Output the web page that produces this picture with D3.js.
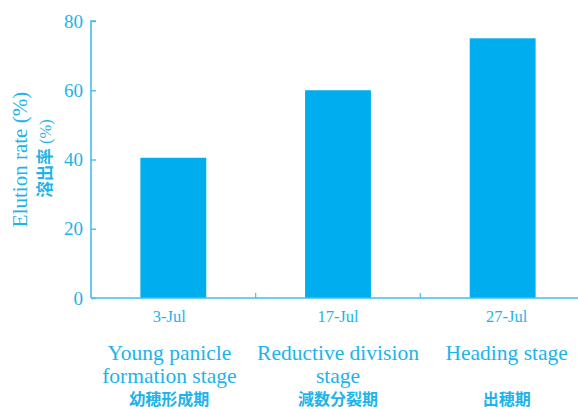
<!DOCTYPE html>
<html>
<head>
<meta charset="utf-8">
<script src="https://cdn.jsdelivr.net/npm/d3@7"></script>
<style>
  html, body { margin: 0; padding: 0; background: #fff; }
  svg { display: block; }
</style>
</head>
<body>
<svg id="chart" width="578" height="409"></svg>
<script>
// Elution rate by sampling date / growth stage
const dates = ["3-Jul", "17-Jul", "27-Jul"];
const stagesEn = [["Young panicle", "formation stage"], ["Reductive division", "stage"], ["Heading stage"]];
const stagesJa = ["幼穂形成期", "減数分裂期", "出穂期"];
const elutionRate = [40.5, 60, 75];
const yTicks = [0, 20, 40, 60, 80];

const barColor = "#00aeef";
const textColor = "#1eb3ea";
const axisColor = "#45bdec";
const serif = "'Liberation Serif', 'Times New Roman', serif";
const cjk = "'Noto Sans CJK JP', sans-serif";

const svg = d3.select("#chart");
const W = 578, H = 409;
const margin = { left: 91, right: -7, top: 21, bottom: 111 };

const x = d3.scaleBand()
  .domain(dates)
  .range([margin.left, W - margin.right])
  .paddingInner(0.6)
  .paddingOuter(0.3);
// slightly wider band used for placing the category text
const xLabel = d3.scaleBand()
  .domain(dates)
  .range([85, 591]);
const labelX = d => xLabel(d) + xLabel.bandwidth() / 2;

const y = d3.scaleLinear()
  .domain([0, 80])
  .range([H - margin.bottom, margin.top]);

// bars
svg.append("g")
  .selectAll("rect")
  .data(elutionRate)
  .join("rect")
  .attr("x", (d, i) => x(dates[i]))
  .attr("width", x.bandwidth())
  .attr("y", d => y(d))
  .attr("height", d => y(0) - y(d))
  .attr("fill", barColor);

// y axis (ticks point inward)
const yAxis = svg.append("g")
  .attr("transform", `translate(${margin.left},0)`)
  .call(d3.axisRight(y).tickValues(yTicks).tickSize(5).tickFormat(""));
yAxis.select(".domain").attr("stroke", axisColor).attr("stroke-width", 1.6)
  .attr("d", `M5,${y(80)}H0V${y(0)}`);
yAxis.selectAll(".tick line").attr("stroke", axisColor).attr("stroke-width", 1.4);

svg.append("g")
  .selectAll("text")
  .data(yTicks)
  .join("text")
  .attr("x", 83)
  .attr("y", d => y(d))
  .attr("dy", "0.35em")
  .attr("text-anchor", "end")
  .attr("font-family", serif)
  .attr("font-size", 19)
  .attr("fill", textColor)
  .text(d => d);

// x axis with separators between categories
const sep = d3.range(1, dates.length).map(i => (x(dates[i - 1]) + x.bandwidth() + x(dates[i])) / 2);
const xAxis = svg.append("g");
xAxis.append("line")
  .attr("x1", margin.left).attr("x2", W)
  .attr("y1", y(0)).attr("y2", y(0))
  .attr("stroke", axisColor).attr("stroke-width", 1.6);
xAxis.selectAll("line.sep")
  .data(sep)
  .join("line")
  .attr("class", "sep")
  .attr("x1", d => d).attr("x2", d => d)
  .attr("y1", y(0) - 5).attr("y2", y(0))
  .attr("stroke", axisColor).attr("stroke-width", 1.2);

// date labels
svg.append("g")
  .selectAll("text")
  .data(dates)
  .join("text")
  .attr("x", labelX)
  .attr("y", 322)
  .attr("text-anchor", "middle")
  .attr("font-family", serif)
  .attr("font-size", 16.5)
  .attr("fill", textColor)
  .text(d => d);

// stage labels (English, up to two lines)
const stageG = svg.append("g")
  .selectAll("text")
  .data(stagesEn)
  .join("text")
  .attr("text-anchor", "middle")
  .attr("font-family", serif)
  .attr("font-size", 21.5)
  .attr("fill", textColor);
stageG.each(function (lines, i) {
  const cx = labelX(dates[i]);
  d3.select(this).selectAll("tspan")
    .data(lines)
    .join("tspan")
    .attr("x", cx)
    .attr("y", (l, j) => 360 + j * 22.5)
    .text(l => l);
});

// stage labels (Japanese)
svg.append("g")
  .selectAll("text")
  .data(stagesJa)
  .join("text")
  .attr("x", (d, i) => labelX(dates[i]))
  .attr("y", 404.5)
  .attr("text-anchor", "middle")
  .attr("font-family", cjk)
  .attr("font-weight", "bold")
  .attr("font-size", 16)
  .attr("fill", textColor)
  .text(d => d);

// y axis titles
const midY = (y(0) + y(80)) / 2;
svg.append("text")
  .attr("transform", `translate(27,${midY}) rotate(-90)`)
  .attr("text-anchor", "middle")
  .attr("font-family", serif)
  .attr("font-size", 21)
  .attr("fill", textColor)
  .text("Elution rate (%)");

const ja = svg.append("text")
  .attr("transform", `translate(51,${midY - 1}) rotate(-90)`)
  .attr("text-anchor", "middle")
  .attr("font-size", 16.5)
  .attr("fill", textColor);
ja.append("tspan").attr("font-family", cjk).attr("font-weight", "bold").text("溶出率");
ja.append("tspan").attr("font-family", serif).text(" (%)");
</script>
</body>
</html>
